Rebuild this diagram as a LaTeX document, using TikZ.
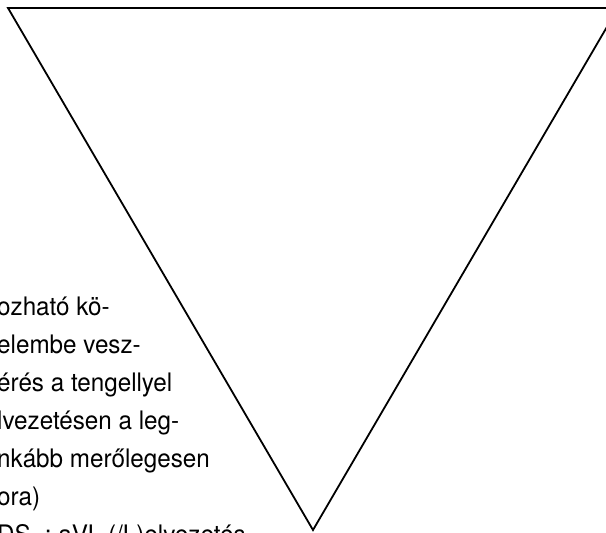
\documentclass[tikz,border=0pt]{standalone}
\usepackage{fontspec}
\setmainfont[FakeStretch=0.95]{TeX Gyre Heros}
\usepackage{tikz}
\usetikzlibrary{positioning}

\begin{document}
\begin{tikzpicture}[
    x=1pt, y=-1pt,
    funnel/.style={draw=black, line width=1.8pt, line join=miter},
    noteline/.style={anchor=base west, inner sep=0pt, font=\fontsize{25.5}{38}\selectfont}
]
\useasboundingbox (0,0) rectangle (606,533);
\clip (0,0) rectangle (606,533);

% Funnel triangle
\coordinate (tl) at (8,8);
\coordinate (tr) at (618,8);
\coordinate (apex) at (313,530);
\draw[funnel] (tl) -- (tr) -- (apex) -- cycle;

% Clipped note text, one node per line
\foreach \txt [count=\i] in {ozható kö-, elembe vesz-, érés a tengellyel,
    lvezetésen a leg-, nkább merőlegesen, ora),
    {DS\hspace{0.55em}: aVL (/L)elvezetés}}
  \node[noteline] (line\i) at (-3,{315+38*(\i-1)}) {\txt};

\end{tikzpicture}
\end{document}
